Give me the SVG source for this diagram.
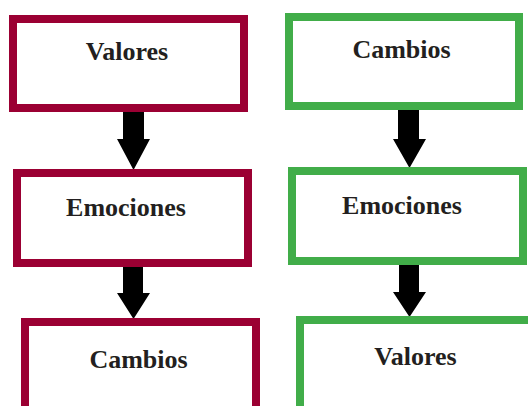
<svg xmlns="http://www.w3.org/2000/svg" width="528" height="406" viewBox="0 0 528 406">
<style>
.red{fill:#fff;stroke:#9b0033;stroke-width:8}
.grn{fill:#fff;stroke:#41ad49;stroke-width:8}
.lbl{font-family:"Liberation Serif",serif;font-weight:bold;font-size:26px;fill:#231f20;text-anchor:middle}
.arr{fill:#000}
</style>
<rect width="528" height="406" fill="#fff"/>
<g id="connectors">
<polygon class="arr" points="123,112 144,112 144,139 150,139 133.5,170 117,139 123,139"/>
<polygon class="arr" points="123,266 143,266 143,293 150,293 133.5,319 117,293 123,293"/>
<polygon class="arr" points="398,109 419,109 419,139 426,139 409.5,168 393,139 398,139"/>
<polygon class="arr" points="399,264 419,264 419,292 426,292 409.5,317 393,292 399,292"/>
</g>
<g id="l-valores"><rect class="red" x="13" y="19" width="231" height="89"/><text class="lbl" x="127" y="60">Valores</text></g>
<g id="l-emociones"><rect class="red" x="17" y="173" width="231" height="90"/><text class="lbl" x="126" y="216">Emociones</text></g>
<g id="l-cambios"><rect class="red" x="25" y="322" width="231" height="100"/><text class="lbl" x="138.5" y="368">Cambios</text></g>
<g id="r-cambios"><rect class="grn" x="289" y="17" width="230" height="89"/><text class="lbl" x="401.5" y="58">Cambios</text></g>
<g id="r-emociones"><rect class="grn" x="292" y="171" width="231" height="90"/><text class="lbl" x="402" y="214">Emociones</text></g>
<g id="r-valores"><rect class="grn" x="300" y="320" width="240" height="100"/><text class="lbl" x="415.5" y="365">Valores</text></g>
</svg>
